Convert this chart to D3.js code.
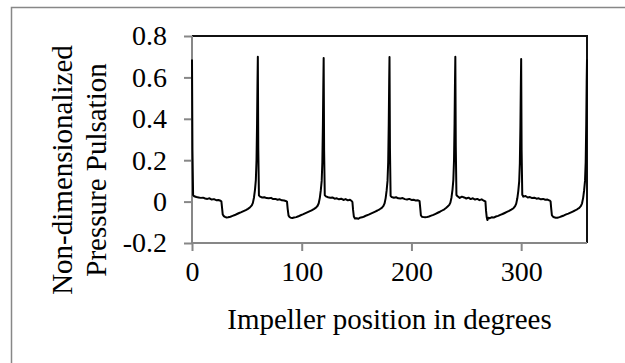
<!DOCTYPE html>
<html>
<head>
<meta charset="utf-8">
<script src="https://cdn.jsdelivr.net/npm/d3@7"></script>
<style>
  html, body { margin: 0; padding: 0; background: #fff; }
  svg { display: block; }
  text { font-family: "Liberation Serif", "Times New Roman", serif; fill: #000; }
</style>
</head>
<body>
<svg id="chart" width="625" height="363"></svg>
<script>
// ---- data ----
const xTicks = [0, 100, 200, 300];
const yTicks = [-0.2, 0, 0.2, 0.4, 0.6, 0.8];
const yTickLabels = ["-0.2", "0", "0.2", "0.4", "0.6", "0.8"];
const xTitle = "Impeller position in degrees";
const yTitleLines = ["Non-dimensionalized", "Pressure Pulsation"];

const angle = [
  0,0.4,1,2,4,6,8,10,12,14,16,18,20,22,24,26,26.8,27.4,28,29,30,31.5,33,35,37,39,41,43,45,47,49,51,53,54.5,55.5,56.5,57.4,58.2,58.8,59.3,59.7,
  60,60.4,61,62,64,66,68,70,72,74,76,78,80,82,84,86,86.6,87.2,88,89,90,91.5,93,95,97,99,101,103,105,107,109,111,113,114.5,115.5,116.5,117.4,118.2,118.8,119.3,119.7,
  120,120.4,121,122,124,126,128,130,132,134,136,138,140,142,144,145.5,146.2,146.8,147.5,148.5,150,151.5,153,155,157,159,161,163,165,167,169,171,173,174.5,175.5,176.5,177.4,178.2,178.8,179.3,179.7,
  180,180.4,181,182,184,186,188,190,192,194,196,198,200,202,204,206,207.4,208,208.6,209.5,211,212.5,214,216,218,220,222,224,226,228,230,231.5,233,234.5,235.5,236.5,237.4,238.2,238.8,239.3,239.7,
  240,240.4,241,242,244,246,248,250,252,254,256,258,260,262,264,266,267.4,268,268.6,269.2,270,271.5,273,275,277,279,281,283,285,287,289,291,293,294.5,295.5,296.5,297.4,298.2,298.8,299.3,299.7,
  300,300.4,301,302,304,306,308,310,312,314,316,318,320,322,324,326,326.8,327.4,328,329,330,331.5,333,335,337,339,341,343,345,347,349,351,353,354.5,355.5,356.5,357.4,358.2,358.8,359.3,359.7,360
];
const pulsation = [
  0.686,0.25,0.032,0.026,0.022,0.020,0.018,0.019,0.015,0.013,0.016,0.010,0.012,0.007,0.008,0.004,0.000,-0.030,-0.062,-0.070,-0.074,-0.077,-0.076,-0.073,-0.069,-0.065,-0.060,-0.055,-0.051,-0.046,-0.041,-0.035,-0.027,-0.018,-0.006,0.020,0.057,0.105,0.200,0.380,0.580,
  0.700,0.26,0.030,0.024,0.020,0.021,0.017,0.016,0.018,0.012,0.013,0.009,0.011,0.006,0.005,0.002,-0.001,-0.035,-0.068,-0.075,-0.078,-0.079,-0.077,-0.075,-0.071,-0.066,-0.062,-0.057,-0.052,-0.047,-0.042,-0.036,-0.029,-0.020,-0.008,0.018,0.055,0.100,0.190,0.370,0.570,
  0.694,0.25,0.031,0.025,0.021,0.019,0.020,0.014,0.016,0.011,0.014,0.008,0.012,0.006,0.009,0.003,-0.002,-0.040,-0.072,-0.082,-0.080,-0.083,-0.078,-0.076,-0.072,-0.067,-0.063,-0.058,-0.053,-0.048,-0.043,-0.037,-0.030,-0.021,-0.009,0.017,0.054,0.100,0.190,0.370,0.575,
  0.699,0.26,0.028,0.022,0.019,0.021,0.016,0.015,0.017,0.012,0.010,0.013,0.008,0.009,0.005,0.006,0.002,-0.030,-0.066,-0.073,-0.075,-0.076,-0.075,-0.072,-0.068,-0.064,-0.059,-0.054,-0.049,-0.043,-0.037,-0.031,-0.024,-0.016,-0.005,0.020,0.057,0.105,0.200,0.380,0.585,
  0.700,0.27,0.032,0.026,0.018,0.024,0.020,0.015,0.019,0.012,0.016,0.010,0.013,0.007,0.011,0.004,0.001,-0.045,-0.075,-0.089,-0.078,-0.080,-0.076,-0.077,-0.072,-0.069,-0.064,-0.060,-0.055,-0.050,-0.045,-0.039,-0.032,-0.022,-0.010,0.016,0.052,0.098,0.185,0.360,0.565,
  0.689,0.25,0.033,0.024,0.027,0.020,0.022,0.017,0.019,0.014,0.016,0.011,0.013,0.009,0.010,0.005,0.001,-0.035,-0.066,-0.073,-0.076,-0.078,-0.078,-0.075,-0.071,-0.067,-0.062,-0.058,-0.053,-0.048,-0.043,-0.037,-0.030,-0.021,-0.008,0.018,0.055,0.100,0.190,0.370,0.575,0.686
];

// ---- drawing ----
const svg = d3.select("#chart");
const plotL = 192, plotR = 587, plotT = 36, plotB = 243;
const axisGray = "#878787";
const serif = '"Liberation Serif", "Times New Roman", serif';

const x = d3.scaleLinear().domain([0, 360]).range([plotL, plotR]);
const y = d3.scaleLinear().domain([-0.2, 0.8]).range([plotB, plotT]);

// outer chart-area border (extends past right/bottom edges)
svg.append("rect")
  .attr("x", 11.5).attr("y", 7.5)
  .attr("width", 640).attr("height", 380)
  .attr("fill", "none").attr("stroke", axisGray).attr("stroke-width", 1.5);

// plot frame top & right (dark)
svg.append("path")
  .attr("d", `M${plotL},${plotT}H${plotR}V${plotB}`)
  .attr("fill", "none").attr("stroke", "#111").attr("stroke-width", 2);

// axes
const fs = 28;
const yAxis = svg.append("g").attr("transform", `translate(${plotL},0)`)
  .call(d3.axisLeft(y).tickValues(yTicks).tickSize(8).tickPadding(17)
    .tickFormat((d, i) => yTickLabels[i]));
const xAxis = svg.append("g").attr("transform", `translate(0,${plotB})`)
  .call(d3.axisBottom(x).tickValues(xTicks).tickSize(8).tickPadding(10)
    .tickFormat(d3.format("d")));
[yAxis, xAxis].forEach(g => {
  g.attr("font-family", serif).attr("font-size", fs);
  g.select(".domain").attr("stroke", axisGray).attr("stroke-width", 2);
  g.selectAll(".tick line").attr("stroke", axisGray).attr("stroke-width", 2);
  g.selectAll(".tick text")
    .style("font-family", serif)
    .style("font-size", fs + "px").attr("fill", "#000");
});
xAxis.select(".domain").attr("d", `M${plotL},0H${plotR}`);
yAxis.select(".domain").attr("d", `M0,${plotB}V${plotT}`);

// data line
const pts = angle.map((a, i) => [a, pulsation[i]]);
svg.append("path")
  .datum(pts)
  .attr("d", d3.line().x(d => x(d[0])).y(d => y(d[1])))
  .attr("fill", "none").attr("stroke", "#000").attr("stroke-width", 2)
  .attr("stroke-linejoin", "round");

// titles
svg.append("text")
  .attr("x", (plotL + plotR) / 2).attr("y", 329)
  .attr("text-anchor", "middle")
  .style("font-size", "29px")
  .text(xTitle);

const yt = svg.append("text")
  .attr("transform", "translate(0,170) rotate(-90)")
  .attr("text-anchor", "middle")
  .style("font-size", "29px");
yt.append("tspan").attr("x", 0).attr("y", 72).text(yTitleLines[0]);
yt.append("tspan").attr("x", 0).attr("y", 106).text(yTitleLines[1]);
</script>
</body>
</html>
